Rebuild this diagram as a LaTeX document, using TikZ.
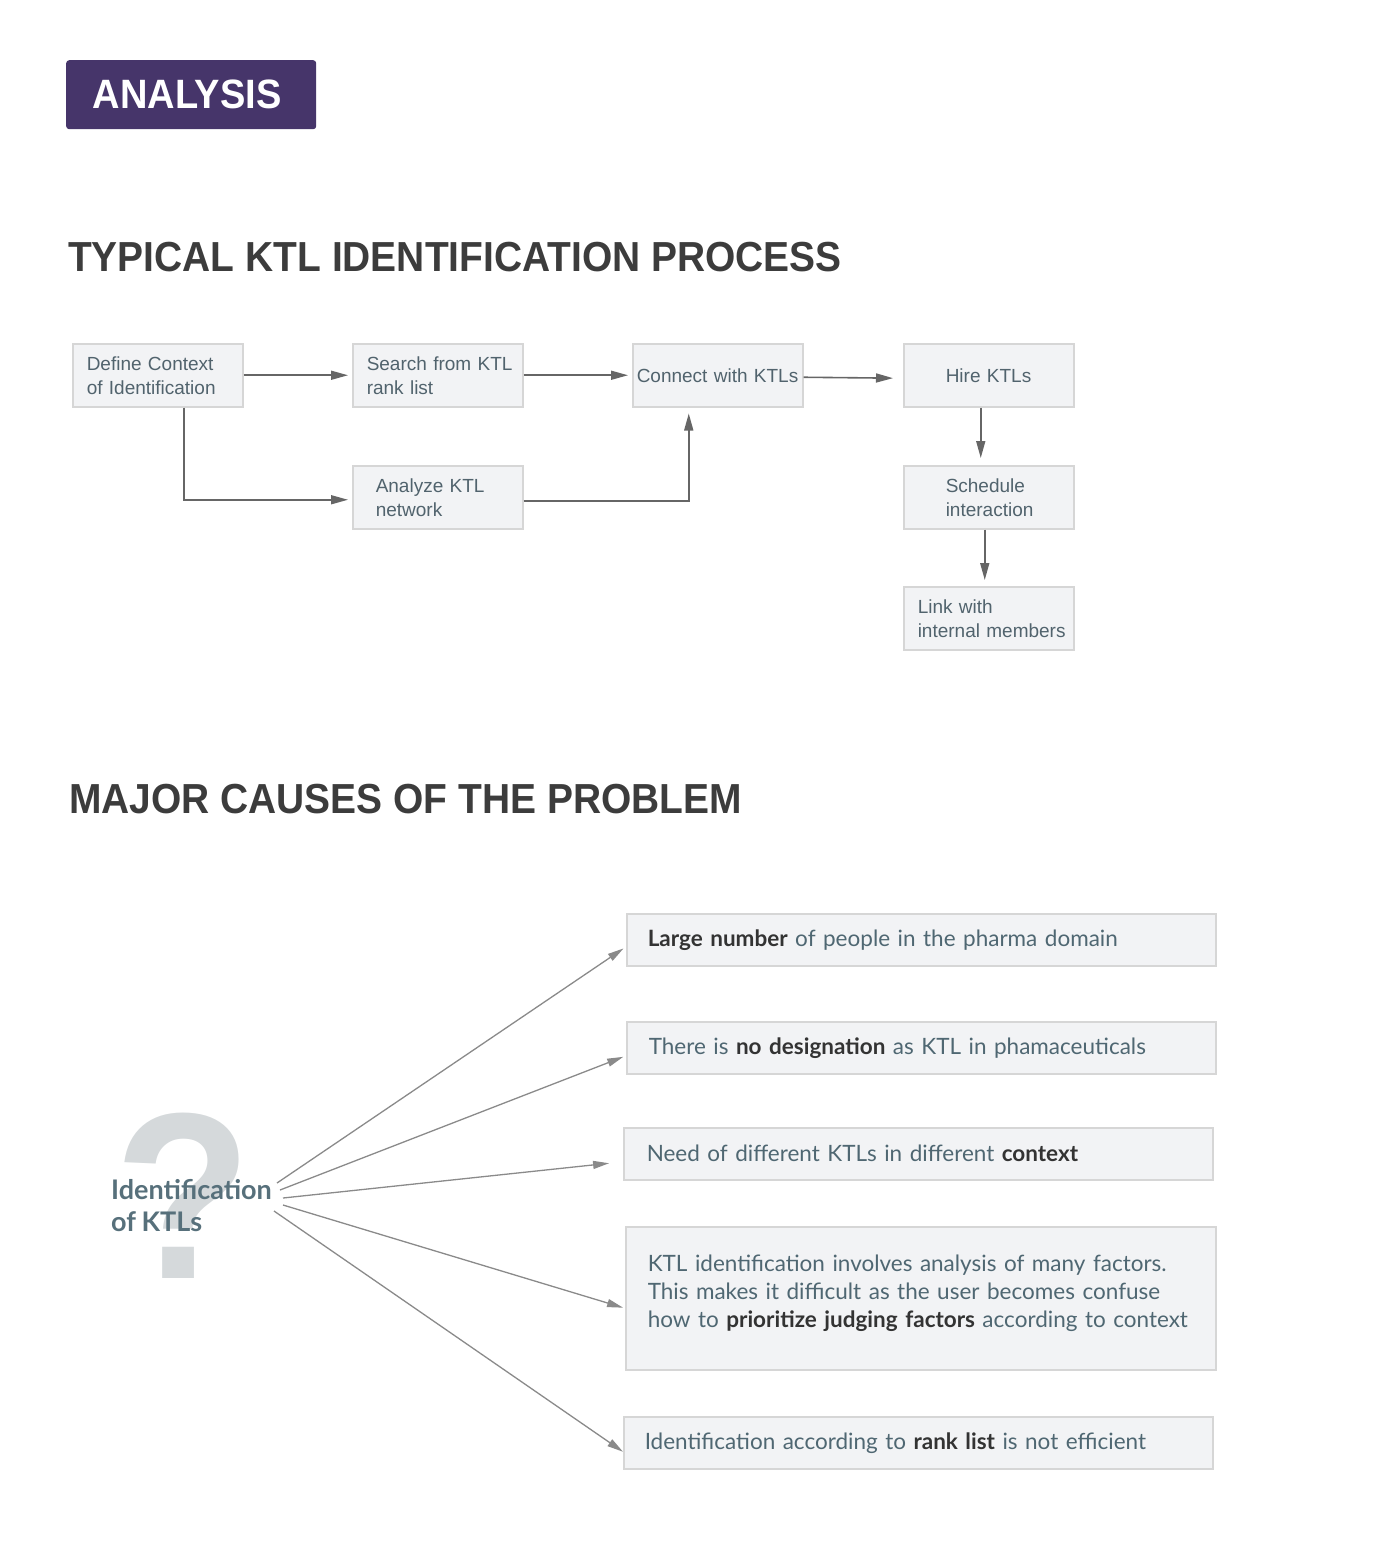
\documentclass[tikz,border=0pt]{standalone}
\usepackage{fontspec}
\setmainfont{Liberation Sans}
\newfontfamily\headfont[FakeStretch=0.927]{Liberation Sans}
\newfontfamily\qfont[FakeStretch=0.95]{Liberation Sans}
\newfontfamily\lato[WordSpace=0.85]{Lato}
\usetikzlibrary{arrows.meta}
\definecolor{purp}{HTML}{46356A}
\definecolor{headc}{HTML}{3C3C3C}
\definecolor{boxfill}{HTML}{F2F3F5}
\definecolor{boxline}{HTML}{D6D6D6}
\definecolor{boxtext}{HTML}{51636D}
\definecolor{latotext}{HTML}{4F6772}
\definecolor{latobold}{HTML}{333333}
\definecolor{arrtop}{HTML}{666666}
\definecolor{arrbot}{HTML}{8A8A8A}
\definecolor{qmark}{HTML}{D5D9DB}
\definecolor{idtext}{HTML}{57707B}
\begin{document}
\begin{tikzpicture}[x=1pt,y=-1pt,
  tbox/.style={draw=boxline, fill=boxfill, line width=1.5pt, minimum height=63pt,
    inner ysep=0pt, align=left, text=boxtext, anchor=north west,
    font=\fontsize{19}{24}\selectfont},
  bbox/.style={draw=boxline, fill=boxfill, line width=1.5pt, minimum height=52pt,
    inner ysep=0pt, align=left, text=latotext, anchor=north west,
    font=\lato\fontsize{22.5}{28}\selectfont},
  heading/.style={anchor=base west, inner sep=0pt, text=headc,
    font=\headfont\bfseries\fontsize{42}{48}\selectfont},
  arrt/.style={draw=arrtop, line width=1.6pt, -{Triangle[length=17pt,width=9pt]}},
  arrb/.style={draw=arrbot, line width=1.3pt, -{Triangle[length=16pt,width=8pt]}}
]
\useasboundingbox (0,0) rectangle (1400,1545);

% title badge
\node[fill=purp, rounded corners=3pt, minimum width=250pt, minimum height=69pt,
  anchor=north west, inner sep=0pt, text=white,
  font=\headfont\bfseries\fontsize{41}{48}\selectfont] (badge) at (66,60) {ANALYSIS\hspace*{8pt}};

% headings
\node[heading] (h1) at (68,271) {TYPICAL KTL IDENTIFICATION PROCESS};
\node[heading] (h2) at (69,813) {MAJOR CAUSES OF THE PROBLEM};

% process boxes
\node[tbox, inner xsep=14pt, text width=142pt] (def) at (72,343) {\mbox{Define Context}\\\mbox{of Identification}};
\node[tbox, inner xsep=14pt, text width=142pt] (srch) at (352,343) {\mbox{Search from KTL}\\\mbox{rank list}};
\node[tbox, inner xsep=4pt, text width=162pt] (conn) at (632,343) {\mbox{Connect with KTLs}};
\node[tbox, inner xsep=42pt, text width=86pt] (hire) at (903,343) {\mbox{Hire KTLs}};
\node[tbox, inner xsep=23pt, text width=124pt] (anl) at (352,465) {\mbox{Analyze KTL}\\\mbox{network}};
\node[tbox, inner xsep=42pt, text width=86pt] (sched) at (903,465) {\mbox{Schedule}\\\mbox{interaction}};
\node[tbox, inner xsep=14pt, text width=142pt] (link) at (903,586) {\mbox{Link with}\\\mbox{internal members}};

% process arrows
\draw[arrt, shorten >=4pt] (def.east) -- (srch.west);
\draw[arrt, shorten >=4pt] (srch.east) -- (conn.west);
\draw[arrt, shorten >=10pt] ([yshift=-2pt]conn.east) -- ([yshift=-3pt]hire.west);
\draw[arrt, shorten >=4pt] ([xshift=26pt]def.south) |- ([yshift=-2.5pt]anl.west);
\draw[arrt, shorten >=6pt] ([yshift=-3.5pt]anl.east) -| ([xshift=-29pt]conn.south);
\draw[arrt, shorten >=7pt] ([xshift=-8pt]hire.south) -- ([xshift=-8pt]sched.north);
\draw[arrt, shorten >=6pt] ([xshift=-4pt]sched.south) -- ([xshift=-4pt]link.north);

% question mark and subject
\node[anchor=base, inner sep=0pt, text=qmark,
  font=\qfont\bfseries\fontsize{237}{237}\selectfont] (qm) at (183,1278) {?};
\node[anchor=west, inner sep=0pt, align=left, text=idtext,
  font=\lato\bfseries\fontsize{27}{32}\selectfont] (ident) at (111,1206) {Identification\\of KTLs};

% cause boxes
\node[bbox, inner xsep=21pt, text width=547pt] (c1) at (626,913)
  {{\bfseries\color{latobold}Large number} of people in the pharma domain};
\node[bbox, inner xsep=22pt, text width=545pt] (c2) at (626,1021)
  {There is {\bfseries\color{latobold}no designation} as KTL in phamaceuticals};
\node[bbox, inner xsep=23pt, text width=543pt] (c3) at (623,1127)
  {Need of different KTLs in different {\bfseries\color{latobold}context}};
\node[bbox, inner xsep=22pt, text width=546pt, minimum height=143pt] (c4) at (625,1226)
  {\mbox{KTL identification involves analysis of many factors.}\\\mbox{This makes it difficult as the user becomes confuse}\\\mbox{how to {\bfseries\color{latobold}prioritize judging factors} according to context}\par\vspace*{10pt}};
\node[bbox, inner xsep=21pt, text width=547pt] (c5) at (623,1416)
  {Identification according to {\bfseries\color{latobold}rank list} is not efficient};

% start points of cause arrows
\coordinate (s1) at (277,1183);
\coordinate (s2) at (280,1190);
\coordinate (s3) at (283,1198);
\coordinate (s4) at (283,1205);
\coordinate (s5) at (274,1211);

\draw[arrb, shorten >=3pt] (s1) -- ([yshift=-7pt]c1.west);
\draw[arrb, shorten >=3pt] (s2) -- ([yshift=-8pt]c2.west);
\draw[arrb, shorten >=14pt] (s3) -- ([yshift=-8pt]c3.west);
\draw[arrb, shorten >=2pt] (s4) -- ([yshift=-10pt]c4.west);
\draw[arrb, shorten >=0pt] (s5) -- ([yshift=-9pt]c5.west);
\end{tikzpicture}
\end{document}
